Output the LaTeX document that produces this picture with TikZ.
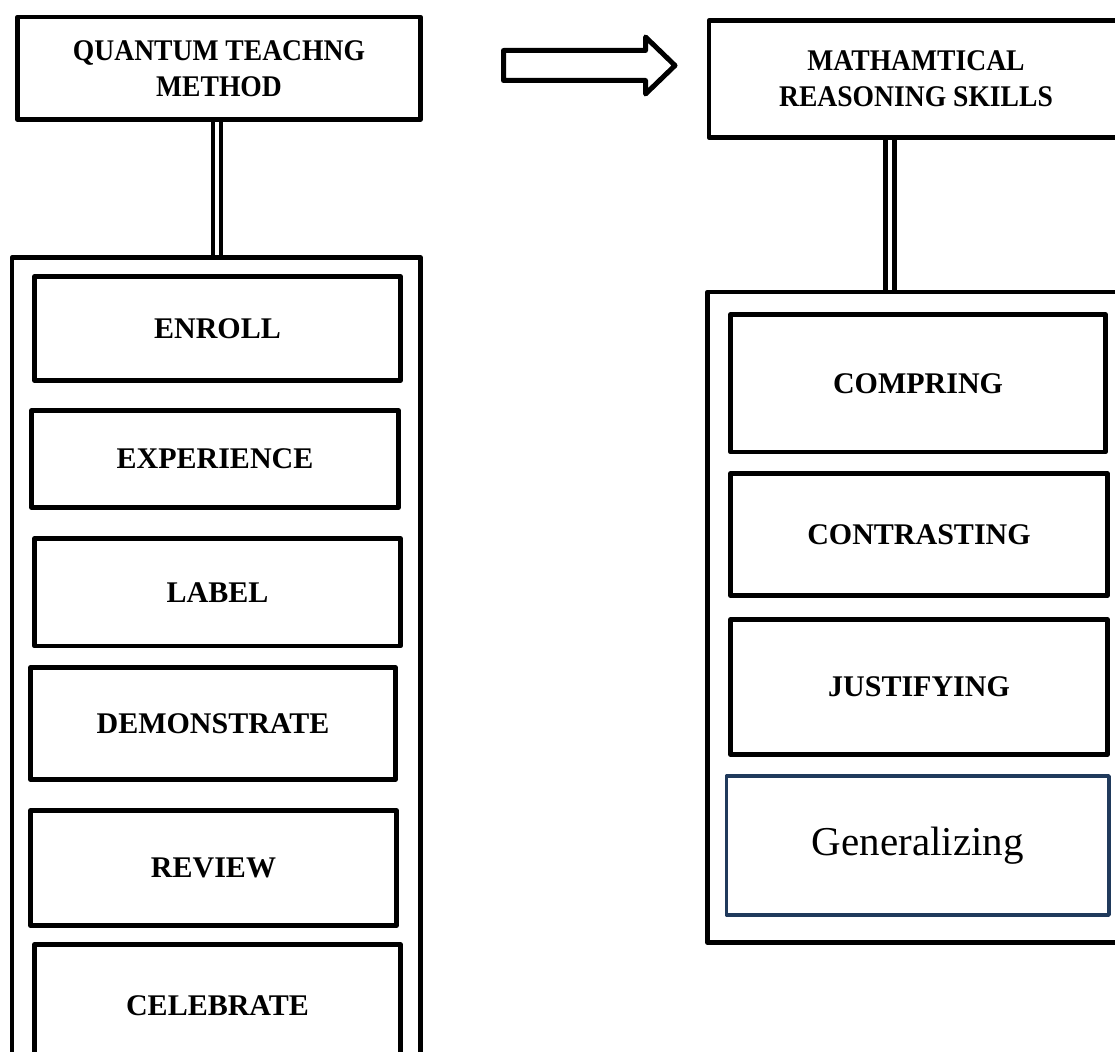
\documentclass[tikz,border=0pt]{standalone}
\usepackage{fontspec}
\setmainfont{Liberation Serif}
\newfontfamily\headfont[FakeStretch=0.92]{Liberation Serif}
\usepackage[dvipsnames]{xcolor}
\usetikzlibrary{backgrounds}
\definecolor{genblue}{HTML}{203A5C}

\begin{document}
\begin{tikzpicture}[x=1pt,y=-1pt,line join=round,
    head node/.style={draw,rectangle,line width=4.5pt,outer sep=0pt,anchor=north west,align=center,font=\headfont\bfseries\fontsize{30}{36}\selectfont},
    frame node/.style={draw,rectangle,line width=4.5pt,outer sep=0pt,anchor=north west},
    item node/.style={draw,rectangle,line width=4.5pt,outer sep=0pt,anchor=north west,font=\bfseries\fontsize{30}{36}\selectfont},
    link/.style={double,line width=4pt,double distance=4pt}]

            \useasboundingbox (0,0) rectangle (1115,1051);
            \clip (0,0) rectangle (1115,1051);

            \node[head node, minimum width=403, minimum height=102.5] (qtm) at (17.5,17) {QUANTUM TEACHNG\\METHOD};
            \node[frame node, minimum width=408.5, minimum height=842.5] (qtmframe) at (12,257.5) {};

            \node[item node, minimum width=366, minimum height=104] (1) at (34.5,276.5) {ENROLL};
            \node[item node, minimum width=367, minimum height=97] (2) at (31.5,410.5) {EXPERIENCE};
            \node[item node, minimum width=366, minimum height=107.5] (3) at (34.5,538.5) {LABEL};
            \node[item node, minimum width=365, minimum height=112] (4) at (30.5,667.5) {DEMONSTRATE};
            \node[item node, minimum width=366, minimum height=115] (5) at (30.5,810.5) {REVIEW};
            \node[item node, minimum width=366, minimum height=123] (6) at (34.5,944.5) {CELEBRATE};

            \node[head node, minimum width=414, minimum height=117] (mrs) at (709,20.5) {MATHAMTICAL\\REASONING SKILLS};
            \node[frame node, minimum width=417.5, minimum height=650.5] (mrsframe) at (707.5,292) {};

            \node[item node, minimum width=375, minimum height=137.5] (7) at (730.5,314.5) {COMPRING};
            \node[item node, minimum width=377, minimum height=122] (8) at (730.5,473.5) {CONTRASTING};
            \node[item node, minimum width=377, minimum height=135] (9) at (730.5,619.5) {JUSTIFYING};
            \node[item node, line width=3.5pt, draw=genblue, font=\fontsize{41}{48}\selectfont, minimum width=382.5, minimum height=139] (10) at (726.5,776) {Generalizing};

            \coordinate (qtmlink) at (217,119.5);
            \coordinate (mrslink) at (890,137.5);

            \begin{scope}[on background layer]
            \draw[link] (qtmlink) to (qtmlink |- qtmframe.north);
            \draw[link, line width=5pt] (mrslink) to (mrslink |- mrsframe.north);
            \end{scope}

            \draw[line width=5pt] (503.5,50.5) -- (645.5,50.5) -- (645.5,37) -- (675,65.5) -- (645.5,94) -- (645.5,80.5) -- (503.5,80.5) -- cycle;

        \end{tikzpicture}
\end{document}
